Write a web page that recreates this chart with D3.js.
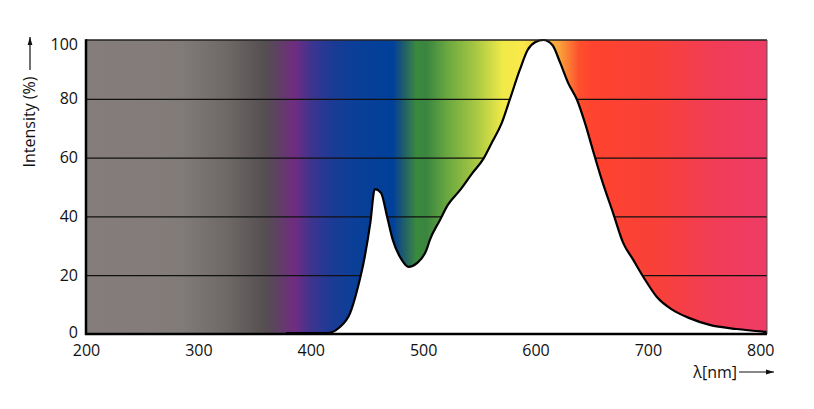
<!DOCTYPE html>
<html><head><meta charset="utf-8">
<script src="https://cdn.jsdelivr.net/npm/d3@7"></script>
<style>
html,body{margin:0;padding:0;background:#fff;}
svg text{font-family:"Open Sans","Noto Sans",sans-serif;fill:#111;}
</style></head>
<body><svg id="c" width="814" height="409"></svg>
<script>
// Data
const wavelengths = [378,414,426,435,442,448,453,457,462.5,468,473,481,487,494.5,503,506,515,522,533,544,553,561,570,577,586,593,600,607,615,622,629,637,644,651,659,669,678,687,696,708,722,737,755,779,806];
const intensity   = [0.3,0.3,2.4,7.1,16,26.2,37.8,49.3,48,39.8,32,25.2,22.8,24.1,28.6,32,38.8,43.9,49,54.8,59.2,65,71.8,79.6,89.8,96.6,99.3,100,98.3,92.2,85.4,79.6,71.8,62.6,52.4,41.2,31,25.2,19.4,12.6,8.2,5.4,3.1,1.7,0.7];
const xTicks = [200,300,400,500,600,700,800];
const yTicks = [0,20,40,60,80,100];
// spectrum background colours, anchored to wavelength (nm)
const spectrumNm     = [200,260,286,325,360,372,385,402,416,438,473,482,494,503,520,547,571,589,621,639,651,710,754,806];
const spectrumColors = ["#857d7b","#847c7a","#807b78","#6e6967","#554e50","#5f3f66","#712c80","#3a3590","#1f3a95","#0b3f98","#00409a","#1e5a70","#3a8a3e","#3a8540","#66a640","#a7c843","#f0ea48","#fbe84a","#f9a33a","#fd4f2e","#ff432e","#f8403a","#f23d55","#ee3b66"];

const svg = d3.select("#c");
const L=86, R=767, T=40, B=334;
const x = d3.scaleLinear().domain([200,806]).range([L,R]);
const y = d3.scaleLinear().domain([0,100]).range([B,T]);

const defs = svg.append("defs");
const grad = defs.append("linearGradient").attr("id","spec")
  .attr("gradientUnits","userSpaceOnUse").attr("x1",L).attr("x2",R).attr("y1",0).attr("y2",0);
spectrumNm.forEach((nm,i)=>{
  grad.append("stop").attr("offset",(x(nm)-L)/(R-L)).attr("stop-color",spectrumColors[i]);
});
defs.append("clipPath").attr("id","clip").append("rect").attr("x",L).attr("y",T).attr("width",R-L).attr("height",B-T);

svg.append("rect").attr("x",L).attr("y",T).attr("width",R-L).attr("height",B-T).attr("fill","url(#spec)");

// gridlines
const grid = svg.append("g").attr("transform",`translate(${L},0)`)
  .call(d3.axisLeft(y).tickValues(yTicks.filter(v=>v>0&&v<100)).tickSize(-(R-L)).tickFormat(""));
grid.select(".domain").remove();
grid.selectAll("line").attr("stroke","#111").attr("stroke-width",1.2);

const pts = wavelengths.map((w,i)=>[w,intensity[i]]);
const area = d3.area().x(d=>x(d[0])).y0(B).y1(d=>y(d[1])).curve(d3.curveMonotoneX);
const line = d3.line().x(d=>x(d[0])).y(d=>y(d[1])).curve(d3.curveMonotoneX);
const g = svg.append("g").attr("clip-path","url(#clip)");
g.append("path").datum(pts).attr("d",area).attr("fill","#fff");
svg.append("path").datum(pts).attr("d",line).attr("fill","none").attr("stroke","#000").attr("stroke-width",2.2).attr("stroke-linejoin","round");

// frame
svg.append("line").attr("x1",L).attr("x2",R).attr("y1",T).attr("y2",T).attr("stroke","#222").attr("stroke-width",1.5);
svg.append("line").attr("x1",R).attr("x2",R).attr("y1",T).attr("y2",B).attr("stroke","#555").attr("stroke-width",1);
svg.append("line").attr("x1",L).attr("x2",L).attr("y1",T-0.7).attr("y2",B+1).attr("stroke","#000").attr("stroke-width",2.5);
svg.append("line").attr("x1",L-1).attr("x2",R).attr("y1",B).attr("y2",B).attr("stroke","#000").attr("stroke-width",2.5);

// axes labels
const ya = svg.append("g").attr("transform",`translate(${L-8},0)`)
  .call(d3.axisLeft(y).tickValues(yTicks).tickSize(0).tickPadding(0));
ya.select(".domain").remove();
ya.selectAll("text").attr("font-size",16).attr("dy",(d)=>d===100?"0.6em":(d===0?"0.2em":"0.32em"))
  .style("font-family","'Open Sans',sans-serif").attr("fill","#111");

const xa = svg.append("g").attr("transform",`translate(0,${B})`)
  .call(d3.axisBottom(x).tickValues(xTicks).tickSize(0).tickPadding(11).tickFormat(d3.format("d")));
xa.select(".domain").remove();
xa.selectAll("text").attr("font-size",16).style("font-family","'Open Sans',sans-serif").attr("fill","#111");

// arrow markers
defs.append("marker").attr("id","arr").attr("viewBox","0 0 10 10").attr("refX",10).attr("refY",5)
  .attr("markerWidth",7).attr("markerHeight",7).attr("orient","auto")
  .append("path").attr("d","M0,2 L10,5 L0,8 Z").attr("fill","#111");

svg.append("text").attr("transform","translate(35,122) rotate(-90)").attr("text-anchor","middle")
  .attr("font-size",16).text("Intensity (%)");
svg.append("line").attr("x1",30).attr("x2",30).attr("y1",70).attr("y2",37).attr("stroke","#111").attr("stroke-width",1.2).attr("marker-end","url(#arr)");

svg.append("text").attr("x",737).attr("y",378).attr("text-anchor","end").attr("font-size",16).text("λ[nm]");
svg.append("line").attr("x1",739).attr("x2",774).attr("y1",372).attr("y2",372).attr("stroke","#111").attr("stroke-width",1.2).attr("marker-end","url(#arr)");
</script></body></html>
